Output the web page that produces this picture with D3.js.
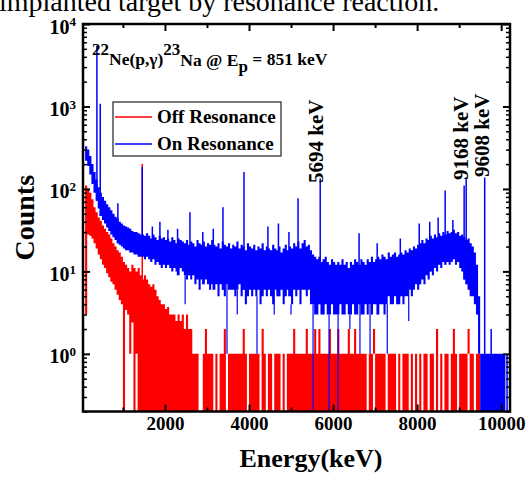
<!DOCTYPE html>
<html>
<head>
<meta charset="utf-8">
<script src="https://cdn.jsdelivr.net/npm/d3@7"></script>
<style>
  body { margin: 0; background: #fff; }
  text { font-family: "Liberation Serif", "Times New Roman", serif; }
</style>
</head>
<body>
<div id="chart"></div>
<script>
// spectrum, binned: bin i covers binStart + i*binWidth (keV); hi/lo = envelope of counts in the bin
const binStart = 100;
const binWidth = 50;

const blueHi = [
  330, 300, 250, 200, 160, 130, 105, 90, 80, 72,
  65, 60, 55, 50, 46, 44, 40, 38, 36, 35,
  34, 33, 31, 30, 30, 29, 28, 28, 27, 29,
  27, 25, 28, 26, 24, 27, 25, 26, 24, 25,
  23, 26, 24, 22, 25, 24, 23, 22, 24, 21,
  23, 22, 20, 24, 22, 21, 23, 20, 22, 21,
  24, 21, 20, 22, 19, 23, 21, 20, 22, 19,
  21, 20, 23, 19, 21, 20, 18, 22, 20, 19,
  21, 18, 20, 19, 22, 18, 20, 19, 18, 21,
  19, 18, 20, 17, 19, 21, 18, 20, 19, 22,
  20, 23, 19, 22, 24, 20, 21, 18, 16, 15,
  14, 15, 13, 14, 15, 13, 12, 14, 13, 12,
  13, 12, 14, 12, 13, 11, 13, 12, 14, 13,
  12, 14, 13, 12, 14, 13, 15, 13, 14, 15,
  14, 16, 15, 14, 17, 15, 16, 17, 15, 16,
  17, 16, 18, 17, 19, 18, 20, 19, 21, 22,
  24, 22, 25, 24, 27, 25, 28, 26, 29, 27,
  30, 28, 31, 29, 30, 32, 29, 30, 27, 28,
  26, 24, 25, 22, 20, 17, 12, 5, 1, 1,
  1, 1, 1, 1, 1, 1, 1, 1, 1, 1
];
const blueLo = [
  220, 190, 150, 115, 90, 72, 58, 47, 42, 38,
  34, 31, 28, 26, 24, 22, 21, 20, 19, 18,
  18, 17, 17, 16, 16, 15, 15, 15, 14, 15,
  14, 13, 14, 12, 13, 12, 11, 12, 11, 12,
  11, 10, 11, 10, 9, 11, 10, 9, 8, 9,
  8, 9, 7, 8, 6, 8, 7, 8, 7, 6,
  7, 6, 7, 5, 7, 6, 5, 7, 6, 6,
  6, 5, 6, 7, 5, 6, 4, 5, 6, 5,
  6, 5, 6, 4, 5, 6, 5, 6, 5, 4,
  6, 5, 5, 6, 4, 5, 6, 5, 4, 6,
  5, 6, 4, 6, 6, 5, 6, 4, 4, 3,
  3, 4, 3, 3, 4, 3, 3, 4, 3, 3,
  3, 4, 3, 3, 4, 3, 3, 4, 3, 3,
  4, 3, 3, 4, 3, 4, 3, 4, 4, 3,
  4, 4, 3, 4, 5, 4, 4, 5, 4, 4,
  5, 4, 5, 5, 6, 5, 6, 7, 6, 7,
  8, 7, 9, 8, 10, 9, 11, 10, 12, 11,
  13, 12, 13, 12, 13, 14, 12, 13, 11, 10,
  8, 7, 6, 5, 5, 4, 3, 1, 0, 0,
  0, 0, 0, 0, 0, 0, 0, 0, 0, 0
];
const redHi = [
  110, 100, 90, 75, 60, 52, 45, 41, 36, 33,
  30, 28, 25, 22, 20, 18, 17, 15, 13, 12,
  11, 10, 12, 11, 10, 11, 9, 8, 9, 8,
  7, 6.5, 7, 6, 5, 4.5, 4, 4, 3.5, 3.7,
  3, 3, 3, 2.5, 3, 2.5, 3, 2, 3, 2,
  2, 1, 1, 1, 1, 1, 1, 2, 1, 1,
  1, 1, 1, 1, 1, 1, 2, 1, 1, 1,
  1, 1, 1, 1, 1, 2, 1, 1, 1, 1,
  1, 1, 1, 1, 2, 1, 1, 1, 1, 1,
  1, 1, 1, 1, 1, 1, 1, 1, 1, 2,
  1, 1, 1, 1, 1, 2, 1, 1, 1, 2,
  1, 2, 1, 1, 1, 1, 2, 1, 1, 1,
  2, 1, 1, 1, 1, 2, 1, 1, 2, 1,
  1, 1, 1, 1, 1, 1, 1, 2, 1, 1,
  1, 1, 1, 1, 1, 1, 1, 1, 1, 1,
  1, 1, 1, 1, 1, 1, 1, 1, 1, 1,
  1, 1, 1, 1, 1, 1, 1, 2, 1, 1,
  1, 1, 1, 1, 1, 2, 1, 1, 1, 1,
  1, 1, 2, 1, 1, 1, 1, 1, 0, 0,
  0, 0, 0, 0, 0, 0, 0, 0, 0, 0
];
const redLo = [
  3, 28, 27, 25, 22, 19, 16, 14, 12, 11,
  9.5, 8.5, 7.5, 7, 6, 5.2, 4.5, 4, 0, 3.4,
  3, 1, 2.4, 0, 1, 0, 0, 0, 0, 0,
  0, 0, 0, 0, 0, 0, 0, 0, 0, 0,
  0, 0, 0, 0, 0, 0, 0, 0, 0, 0,
  0, 0, 0, 0, 1, 1, 0, 0, 0, 0,
  0, 1, 0, 1, 0, 0, 0, 1, 0, 0,
  0, 0, 0, 0, 0, 0, 0, 1, 0, 0,
  0, 0, 0, 1, 0, 0, 1, 0, 0, 1,
  0, 0, 0, 1, 0, 1, 0, 0, 0, 0,
  0, 0, 0, 0, 0, 0, 0, 0, 0, 0,
  0, 0, 0, 0, 0, 0, 0, 0, 0, 0,
  0, 0, 0, 0, 0, 0, 0, 0, 0, 0,
  0, 0, 0, 0, 1, 0, 0, 1, 0, 0,
  0, 0, 0, 1, 0, 0, 0, 0, 1, 0,
  1, 0, 0, 0, 1, 0, 1, 0, 1, 0,
  1, 0, 0, 1, 0, 0, 1, 0, 1, 0,
  1, 0, 0, 1, 0, 0, 0, 1, 0, 0,
  0, 0, 1, 0, 0, 1, 0, 0, 0, 0,
  0, 0, 0, 0, 0, 0, 0, 0, 0, 0
];

// narrow lines sticking out of the envelope: [energy keV, counts]
const blueSpikes = [
  [381, 5400], [460, 1080], [880, 67], [1460, 185], [1700, 35], [1880, 40],
  [2070, 32], [2300, 33], [2595, 52], [2900, 30], [3150, 33], [3380, 60],
  [3880, 160], [4450, 35], [4700, 38], [4950, 30], [5167, 77], [5694, 134],
  [6619, 29], [7050, 22], [7600, 25], [8050, 38], [8300, 40], [8500, 45],
  [8667, 96], [8850, 42], [9119, 110], [9168, 138], [9608, 138],
  [9762, 2], [10140, 1]
];
const redSpikes = [[1460, 200]];
// lines dropping below the envelope: [energy keV, counts]
const blueDips = [
  [2480, 4], [3476, 1], [3720, 3], [4190, 1], [4600, 3], [5000, 3], [5524, 0],
  [5905, 0], [6119, 0], [6400, 2], [6640, 1], [6880, 1], [7290, 1], [7800, 2.5]
];

const xMajor = [2000, 4000, 6000, 8000, 10000];
const xMinor = [1000, 3000, 5000, 7000, 9000];
const yMajor = [1, 10, 100, 1000, 10000];

const seriesNames = ["Off Resonance", "On Resonance"];
const seriesColors = ["#ff0000", "#0000ff"];
const peakLabels = ["5694 keV", "9168 keV", "9608 keV"];

function drawSpectrum() {
    const W = 528, H = 477;
    const margin = {top: 24, right: 18, bottom: 65.5, left: 83};
    const width = W - margin.left - margin.right;
    const height = H - margin.top - margin.bottom;

    const root = d3.select("#chart").append("svg")
        .attr("width", W)
        .attr("height", H);

    // piece of the caption above the figure
    root.append("text")
        .attr("x", -1)
        .attr("y", 11)
        .style("font-size", "28px")
        .text("implanted target by resonance reaction.");

    const svg = root.append("g")
        .attr("transform", `translate(${margin.left}, ${margin.top})`);

    const x = d3.scaleLinear().domain([50, 10210]).range([0, width]);
    const y = d3.scaleLog().domain([0.2, 10000]).range([height, 0]);
    const yv = c => c > 0 ? y(c) : height + 10;

    svg.append("clipPath").attr("id", "plotClip")
        .append("rect").attr("width", width).attr("height", height);

    const bins = blueHi.map((h, i) => ({
        e: binStart + i * binWidth,
        blueHi: h, blueLo: blueLo[i], redHi: redHi[i], redLo: redLo[i]
    }));
    const last = bins[bins.length - 1];
    bins.push(Object.assign({}, last, {e: last.e + binWidth}));
    const binOf = e => bins[Math.min(bins.length - 1, Math.floor((e - binStart) / binWidth))];

    const plot = svg.append("g").attr("clip-path", "url(#plotClip)");

    function band(hiKey, loKey, color) {
        const area = d3.area()
            .x(d => x(d.e))
            .y0(d => yv(d[loKey]))
            .y1(d => yv(d[hiKey]))
            .curve(d3.curveStepAfter);
        plot.append("path")
            .datum(bins)
            .attr("d", area)
            .attr("fill", color)
            .attr("stroke", "none");
    }

    function spikes(list, loKey, color) {
        plot.selectAll(null)
            .data(list)
            .enter()
            .append("line")
            .attr("x1", d => x(d[0]))
            .attr("x2", d => x(d[0]))
            .attr("y1", d => yv(binOf(d[0])[loKey]))
            .attr("y2", d => yv(d[1]))
            .attr("stroke", color)
            .attr("stroke-width", 1.5);
    }

    band("redHi", "redLo", seriesColors[0]);
    spikes(redSpikes, "redLo", seriesColors[0]);
    band("blueHi", "blueLo", seriesColors[1]);
    spikes(blueSpikes, "blueLo", seriesColors[1]);

    // dips go from the band bottom downwards
    plot.selectAll(null)
        .data(blueDips)
        .enter()
        .append("line")
        .attr("x1", d => x(d[0]))
        .attr("x2", d => x(d[0]))
        .attr("y1", d => yv(binOf(d[0]).blueLo))
        .attr("y2", d => yv(d[1]))
        .attr("stroke", seriesColors[1])
        .attr("stroke-width", 1.2);

    // axes, ticks pointing inwards
    const font = g => g.selectAll("text")
        .style("font-size", "19px")
        .style("font-weight", "bold")
        .style("font-family", "'Liberation Serif', serif")
        .attr("fill", "#000");
    const noDomain = g => g.select(".domain").remove();

    svg.append("g")
        .attr("transform", `translate(0, ${height})`)
        .call(d3.axisBottom(x).tickValues(xMajor).tickSize(-7).tickPadding(5).tickFormat(d3.format("d")))
        .call(noDomain).call(font)
        .selectAll("line").attr("stroke-width", 2);
    svg.append("g")
        .attr("transform", `translate(0, ${height})`)
        .call(d3.axisBottom(x).tickValues(xMinor).tickSize(-4).tickFormat(""))
        .call(noDomain)
        .selectAll("line").attr("stroke-width", 2);
    svg.append("g")
        .call(d3.axisTop(x).tickValues(xMajor).tickSize(-7).tickFormat(""))
        .call(noDomain)
        .selectAll("line").attr("stroke-width", 2);
    svg.append("g")
        .call(d3.axisTop(x).tickValues(xMinor).tickSize(-4).tickFormat(""))
        .call(noDomain)
        .selectAll("line").attr("stroke-width", 2);

    const yMinor = y.ticks().filter(v => !yMajor.includes(v));

    const yLeft = svg.append("g")
        .call(d3.axisLeft(y).tickValues(yMajor).tickSize(-7).tickPadding(7))
        .call(noDomain);
    yLeft.selectAll("line").attr("stroke-width", 2);
    yLeft.selectAll(".tick text")
        .text(null)
        .attr("dy", "0.45em")
        .style("font-size", "20px")
        .style("font-weight", "bold")
        .each(function(d) {
            const t = d3.select(this);
            t.append("tspan").text("10");
            t.append("tspan").attr("dy", "-0.55em").style("font-size", "13px").text(Math.round(Math.log10(d)));
        });
    svg.append("g")
        .call(d3.axisLeft(y).tickValues(yMinor).tickSize(-4).tickFormat(""))
        .call(noDomain)
        .selectAll("line").attr("stroke-width", 1.5);
    svg.append("g")
        .attr("transform", `translate(${width}, 0)`)
        .call(d3.axisRight(y).tickValues(yMajor).tickSize(-7).tickFormat(""))
        .call(noDomain)
        .selectAll("line").attr("stroke-width", 2);
    svg.append("g")
        .attr("transform", `translate(${width}, 0)`)
        .call(d3.axisRight(y).tickValues(yMinor).tickSize(-4).tickFormat(""))
        .call(noDomain)
        .selectAll("line").attr("stroke-width", 1.5);

    // frame
    svg.append("rect")
        .attr("width", width)
        .attr("height", height)
        .attr("fill", "none")
        .attr("stroke", "#000")
        .attr("stroke-width", 2.5);

    // axis titles
    svg.append("text")
        .attr("transform", `translate(${34 - margin.left}, ${height / 2}) rotate(-90)`)
        .attr("text-anchor", "middle")
        .style("font-size", "28px")
        .style("font-weight", "bold")
        .text("Counts");
    svg.append("text")
        .attr("x", 311 - margin.left)
        .attr("y", 467 - margin.top)
        .attr("text-anchor", "middle")
        .style("font-size", "26px")
        .style("font-weight", "bold")
        .text("Energy(keV)");

    // reaction annotation
    const ann = svg.append("text")
        .attr("x", 92 - margin.left)
        .attr("y", 65 - margin.top)
        .style("font-size", "17.5px")
        .style("font-weight", "bold");
    ann.append("tspan").attr("dy", "-0.6em").style("font-size", "17px").text("22");
    ann.append("tspan").attr("dy", "0.6em").text("Ne(p,\u03b3)");
    ann.append("tspan").attr("dy", "-0.6em").style("font-size", "17px").text("23");
    ann.append("tspan").attr("dy", "0.6em").text("Na @ E");
    ann.append("tspan").attr("dy", "0.4em").style("font-size", "17px").text("p");
    ann.append("tspan").attr("dy", "-0.4em").text(" = 851 keV");

    // peak labels, vertical
    const labelPeaks = [[5694, 183, 3], [9168, 180, 2], [9608, 177, 4.5]];
    labelPeaks.forEach((p, i) => {
        svg.append("text")
            .attr("transform", `translate(${x(p[0]) + p[2]}, ${p[1] - margin.top}) rotate(-90)`)
            .style("font-size", "21px")
            .style("font-weight", "bold")
            .text(peakLabels[i]);
    });

    // legend
    const lg = svg.append("g").attr("transform", `translate(${113 - margin.left}, ${102 - margin.top})`);
    lg.append("rect")
        .attr("width", 168)
        .attr("height", 54)
        .attr("fill", "#fff")
        .attr("stroke", "#222")
        .attr("stroke-width", 1.2);
    seriesNames.forEach((name, i) => {
        lg.append("line")
            .attr("x1", 2).attr("x2", 39)
            .attr("y1", 15 + i * 27).attr("y2", 15 + i * 27)
            .attr("stroke", seriesColors[i])
            .attr("stroke-width", 1.5);
        lg.append("text")
            .attr("x", 44)
            .attr("y", 21 + i * 27)
            .style("font-size", "19px")
            .style("font-weight", "bold")
            .text(name);
    });
}

drawSpectrum();
</script>
</body>
</html>
